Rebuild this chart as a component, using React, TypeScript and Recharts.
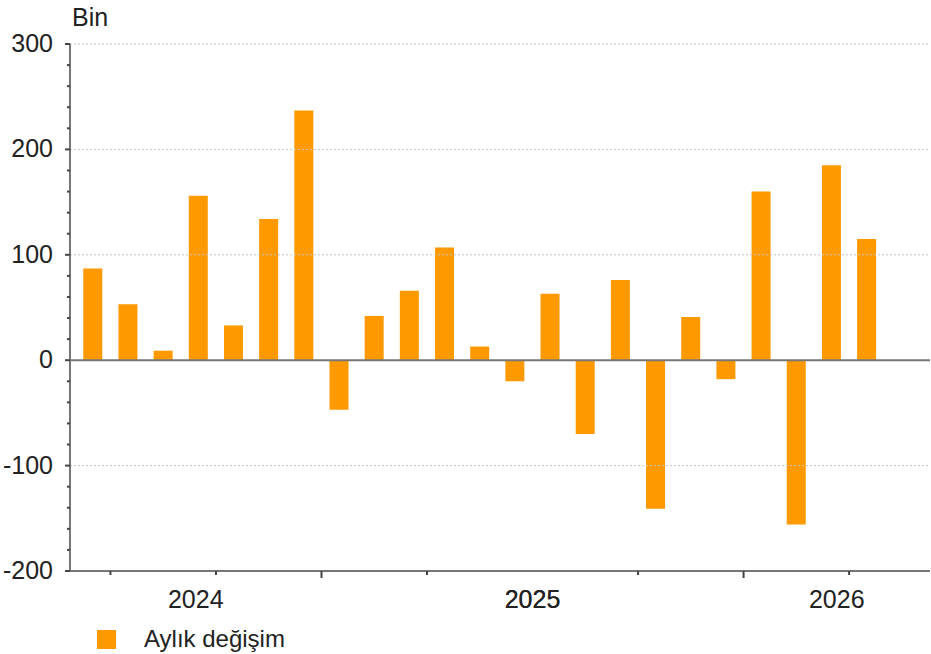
import { BarChart, Bar, XAxis, YAxis, ReferenceLine } from "recharts";

// monthly change, thousands (Jun 2024 - Apr 2026)
const months = [
  "2024-06", "2024-07", "2024-08", "2024-09", "2024-10", "2024-11", "2024-12",
  "2025-01", "2025-02", "2025-03", "2025-04", "2025-05", "2025-06",
  "2025-07", "2025-08", "2025-09", "2025-10", "2025-11", "2025-12",
  "2026-01", "2026-02", "2026-03", "2026-04",
];
const changes = [
  87, 53, 9, 156, 33, 134, 237, -47, 42, 66, 107, 13, -20,
  63, -70, 76, -141, 41, -18, 160, -156, 185, 115,
];
const yMajorTicks = [300, 200, 100, 0, -100, -200];
const yMinorStep = 20;
const legendLabel = "Aylık değişim";
const unitLabel = "Bin";

const ORANGE = "#ff9900";
const FONT = "'Liberation Sans', Arial, sans-serif";

const data = months.map((m, i) => ({ i, month: m, value: changes[i] }));

const xDomain: [number, number] = [-0.65, 23.8];

// quarter boundaries (between months) and year boundaries
const quarterTicks: number[] = [];
const yearBounds: number[] = [];
months.forEach((m, i) => {
  const mo = Number(m.slice(5));
  if (i > 0 && (mo - 1) % 3 === 0) quarterTicks.push(i - 0.5);
  if (i > 0 && mo === 1) yearBounds.push(i - 0.5);
});
const years = Array.from(new Set(months.map((m) => m.slice(0, 4))));
const yearEdges = [xDomain[0], ...yearBounds, xDomain[1]];
const yearTicks = years.map((y, k) => ({
  label: y,
  at: (yearEdges[k] + yearEdges[k + 1]) / 2,
}));

const yTicks: number[] = [];
for (let v = -200; v <= 300; v += yMinorStep) yTicks.push(v);

function XTick(props: any) {
  const { x, y, payload } = props;
  const v = payload.value;
  const yr = yearTicks.find((t) => Math.abs(t.at - v) < 1e-6);
  if (yr) {
    return (
      <text x={x} y={y + 37} textAnchor="middle" fontSize={25} fill="#222" fontFamily={FONT}>
        {yr.label}
      </text>
    );
  }
  const big = yearBounds.some((b) => Math.abs(b - v) < 1e-6);
  return <line x1={x} x2={x} y1={y} y2={y + (big ? 7 : 4)} stroke="#444" strokeWidth={2} />;
}

function YTick(props: any) {
  const { x, y, payload } = props;
  const v = payload.value;
  const major = yMajorTicks.includes(v);
  return (
    <g>
      <line x1={x - (major ? 5 : 3)} x2={x} y1={y} y2={y} stroke="#444" strokeWidth={2} />
      {major && (
        <text x={x - 17} y={y + 8} textAnchor="end" fontSize={25} fill="#222" fontFamily={FONT}>
          {v}
        </text>
      )}
    </g>
  );
}

export default function App() {
  return (
    <>
      <style>{"html,body{margin:0;padding:0;overflow:hidden;background:#fff}"}</style>
      <div
        style={{
          position: "relative",
          width: 931,
          height: 654,
          overflow: "hidden",
          background: "#fff",
          fontFamily: FONT,
        }}
      >
        <BarChart
          width={931}
          height={654}
          data={data}
          margin={{ top: 44, right: 1, left: 0, bottom: 33 }}
        >
          <XAxis
            type="number"
            dataKey="i"
            domain={xDomain}
            allowDataOverflow
            ticks={[...quarterTicks, ...yearTicks.map((t) => t.at)]}
            interval={0}
            tick={<XTick />}
            tickLine={false}
            tickSize={0}
            tickMargin={0}
            height={50}
            axisLine={{ stroke: "#777", strokeWidth: 2 }}
          />
          <YAxis
            type="number"
            domain={[-200, 300]}
            ticks={yTicks}
            interval={0}
            tick={<YTick />}
            tickLine={false}
            tickSize={0}
            tickMargin={0}
            width={70}
            axisLine={{ stroke: "#777", strokeWidth: 2 }}
          />
          {yMajorTicks
            .filter((v) => v !== 0 && v !== -200)
            .map((v) => (
              <ReferenceLine key={v} y={v} stroke="#c4c4c4" strokeDasharray="2 2" strokeWidth={1} />
            ))}
          <Bar dataKey="value" fill={ORANGE} barSize={19} isAnimationActive={false} />
          <ReferenceLine y={0} stroke="#777" strokeWidth={2} />
        </BarChart>
        <div style={{ position: "absolute", left: 72, top: 5, fontSize: 25, lineHeight: "25px", color: "#222" }}>
          {unitLabel}
        </div>
        <div style={{ position: "absolute", left: 97, top: 630, width: 19, height: 19, background: ORANGE }} />
        <div style={{ position: "absolute", left: 144, top: 627, fontSize: 24, lineHeight: "24px", color: "#222" }}>
          {legendLabel}
        </div>
      </div>
    </>
  );
}
